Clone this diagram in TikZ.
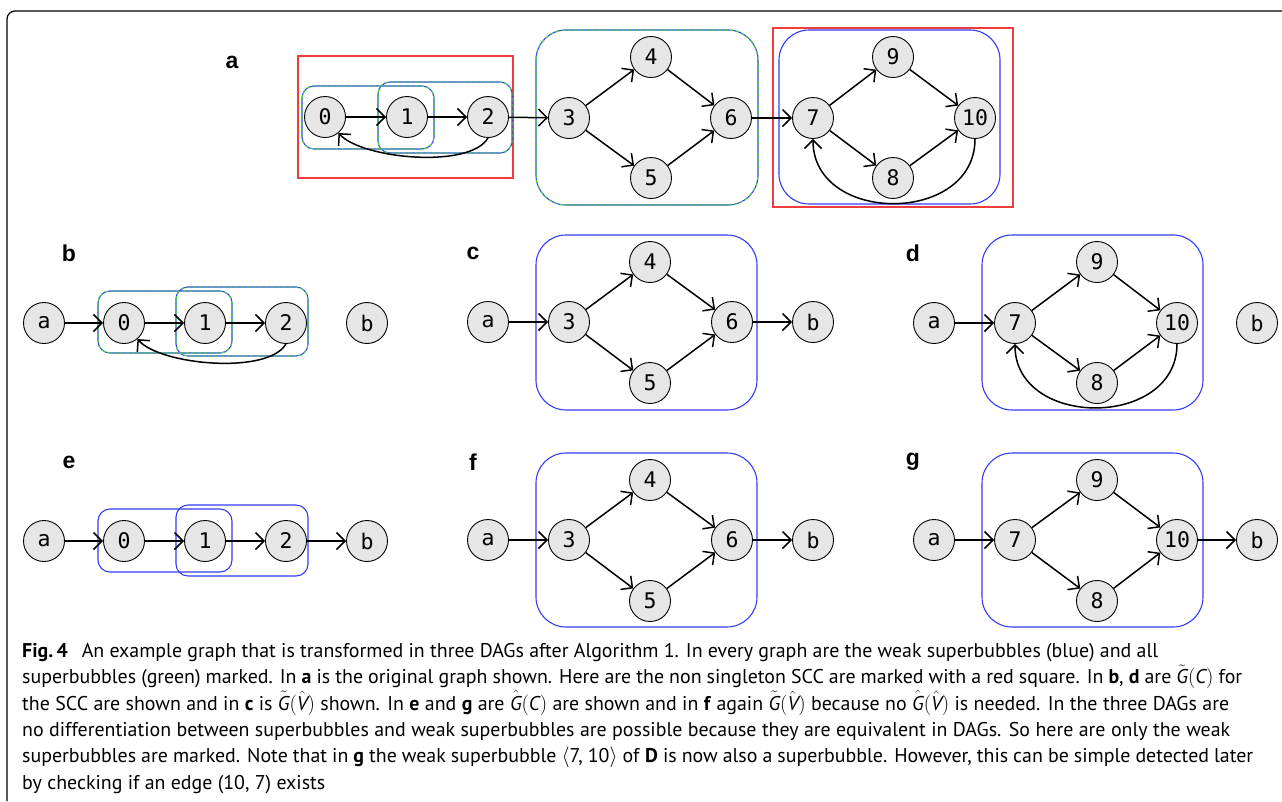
\documentclass[tikz,border=0pt]{standalone}
\usepackage{amsmath}
\usepackage{fontspec}
\setmainfont{PT Sans}
\newfontfamily\vxfont{DejaVu Sans Mono}
\newfontfamily\lblfont{Liberation Sans}
\usetikzlibrary{arrows.meta}
\definecolor{sbblue}{RGB}{50,60,250}
\definecolor{sbgreen}{RGB}{70,210,70}
\definecolor{sccred}{RGB}{240,60,60}
\definecolor{vxfill}{RGB}{230,230,230}
\tikzset{
  vx/.style={circle, draw, fill=vxfill, minimum size=41pt, inner sep=0pt,
    line width=0.9pt, font=\vxfont\fontsize{21.5}{21.5}\selectfont},
  arc/.style={line width=1.5pt,
    -{Straight Barb[length=8.5pt,width=17pt,line width=1.5pt]}},
  weakbub/.style={draw=sbblue, line width=1.1pt, rounded corners=#1},
  superbub/.style={draw=sbgreen, line width=1.1pt, dash pattern=on 3.5pt off 2.5pt,
    rounded corners=#1},
  sccbox/.style={draw=sccred, line width=1.1pt},
  panellabel/.style={font=\lblfont\bfseries\fontsize{23}{23}\selectfont},
  captext/.style={anchor=base west, inner sep=0pt,
    font=\fontsize{19.9}{22}\selectfont},
}
% a bubble that is both weak (blue) and strong (green dashed)
\newcommand\bothbubble[3]{%
  \draw[weakbub=#3] #1 rectangle #2;
  \draw[superbub=#3] #1 rectangle #2;}
% sans italic letters inside formulas
\newcommand\tG{\tilde{\textit{G}}}
\newcommand\hG{\hat{\textit{G}}}
\newcommand\hV{\hat{\textit{V}}}
\newcommand\vC{\textit{C}}
% one caption line set to a given width
\newcommand\capline[2]{\hbox to #1pt{#2}}
\begin{document}
\begin{tikzpicture}[x=1pt, y=-1pt]
\useasboundingbox (0,0) rectangle (1282,801);
\draw[line width=1.2pt, rounded corners=8pt] (7,801) |- (1282,11);

% ---------------- panel a ----------------
\node[panellabel] (la) at (232,62) {a};
\draw[sccbox] (298,56) rectangle (513,178);
\draw[sccbox] (773,28) rectangle (1013,207);
\bothbubble{(302,86)}{(434,149)}{12pt}
\bothbubble{(378,82)}{(512,153)}{12pt}
\bothbubble{(536,30)}{(758,205)}{30pt}
\draw[weakbub=30pt] (779,30) rectangle (1000,204);
\node[vx] (a0) at (325,117) {0};
\node[vx] (a1) at (407,117) {1};
\node[vx] (a2) at (488,117) {2};
\node[vx] (a3) at (569,118) {3};
\node[vx] (a4) at (651,57) {4};
\node[vx] (a5) at (651,178) {5};
\node[vx] (a6) at (731,118) {6};
\node[vx] (a7) at (813,118) {7};
\node[vx] (a9) at (893,57) {9};
\node[vx] (a8) at (893,178) {8};
\node[vx] (a10) at (975,118) {10};
\draw[arc] (a0) -- (a1);
\draw[arc] (a1) -- (a2);
\draw[arc] (a2) -- (a3);
\draw[arc] (a3) -- (a4);
\draw[arc] (a3) -- (a5);
\draw[arc] (a4) -- (a6);
\draw[arc] (a5) -- (a6);
\draw[arc] (a6) -- (a7);
\draw[arc] (a7) -- (a9);
\draw[arc] (a7) -- (a8);
\draw[arc] (a9) -- (a10);
\draw[arc] (a8) -- (a10);
\draw[arc] (a2.south) .. controls (470,169) and (362,159) .. (a0.-50);
\draw[arc] (a10.south) .. controls +(0,86) and +(0,86) .. (a7.south);

% ---------------- panel b ----------------
\node[panellabel] (lb) at (69,253) {b};
\bothbubble{(98,291)}{(232,353)}{12pt}
\bothbubble{(176,287)}{(308,356)}{12pt}
\node[vx] (bA) at (44,323) {a};
\node[vx] (b0) at (124,323) {0};
\node[vx] (b1) at (205,323) {1};
\node[vx] (b2) at (286,323) {2};
\node[vx] (bB) at (367,323) {b};
\draw[arc] (bA) -- (b0);
\draw[arc] (b0) -- (b1);
\draw[arc] (b1) -- (b2);
\draw[arc] (b2.south) .. controls (268,375) and (160,365) .. (b0.-50);

% ---------------- panel c ----------------
\node[panellabel] (lc) at (473,253) {c};
\draw[weakbub=30pt] (536,235) rectangle (757,410);
\node[vx] (cA) at (488,322) {a};
\node[vx] (c3) at (569,322) {3};
\node[vx] (c4) at (650,262) {4};
\node[vx] (c5) at (650,383) {5};
\node[vx] (c6) at (732,322) {6};
\node[vx] (cB) at (813,322) {b};
\draw[arc] (cA) -- (c3);
\draw[arc] (c3) -- (c4);
\draw[arc] (c3) -- (c5);
\draw[arc] (c4) -- (c6);
\draw[arc] (c5) -- (c6);
\draw[arc] (c6) -- (cB);

% ---------------- panel d ----------------
\node[panellabel] (ld) at (913,253) {d};
\draw[weakbub=30pt] (982,235) rectangle (1203,410);
\node[vx] (dA) at (934,323) {a};
\node[vx] (d7) at (1015,323) {7};
\node[vx] (d9) at (1097,262) {9};
\node[vx] (d8) at (1097,383) {8};
\node[vx] (d10) at (1177,323) {10};
\node[vx] (dB) at (1257,323) {b};
\draw[arc] (dA) -- (d7);
\draw[arc] (d7) -- (d9);
\draw[arc] (d7) -- (d8);
\draw[arc] (d9) -- (d10);
\draw[arc] (d8) -- (d10);
\draw[arc] (d10.south) .. controls +(0,85) and +(0,85) .. (d7.south);

% ---------------- panel e ----------------
\node[panellabel] (le) at (69,462) {e};
\draw[weakbub=12pt] (98,509) rectangle (232,572);
\draw[weakbub=12pt] (176,505) rectangle (308,576);
\node[vx] (eA) at (44,541) {a};
\node[vx] (e0) at (124,541) {0};
\node[vx] (e1) at (205,541) {1};
\node[vx] (e2) at (286,541) {2};
\node[vx] (eB) at (367,541) {b};
\draw[arc] (eA) -- (e0);
\draw[arc] (e0) -- (e1);
\draw[arc] (e1) -- (e2);
\draw[arc] (e2) -- (eB);

% ---------------- panel f ----------------
\node[panellabel] (lf) at (473,462) {f};
\draw[weakbub=30pt] (536,453) rectangle (757,627);
\node[vx] (fA) at (488,540) {a};
\node[vx] (f3) at (569,540) {3};
\node[vx] (f4) at (650,480) {4};
\node[vx] (f5) at (650,601) {5};
\node[vx] (f6) at (732,540) {6};
\node[vx] (fB) at (813,540) {b};
\draw[arc] (fA) -- (f3);
\draw[arc] (f3) -- (f4);
\draw[arc] (f3) -- (f5);
\draw[arc] (f4) -- (f6);
\draw[arc] (f5) -- (f6);
\draw[arc] (f6) -- (fB);

% ---------------- panel g ----------------
\node[panellabel] (lg) at (913,462) {g};
\draw[weakbub=30pt] (982,453) rectangle (1203,627);
\node[vx] (gA) at (934,540) {a};
\node[vx] (g7) at (1015,540) {7};
\node[vx] (g9) at (1097,480) {9};
\node[vx] (g8) at (1097,601) {8};
\node[vx] (g10) at (1177,540) {10};
\node[vx] (gB) at (1257,540) {b};
\draw[arc] (gA) -- (g7);
\draw[arc] (g7) -- (g9);
\draw[arc] (g7) -- (g8);
\draw[arc] (g9) -- (g10);
\draw[arc] (g8) -- (g10);
\draw[arc] (g10) -- (gB);

% ---------------- caption ----------------
\node[captext] (cap1) at (22,657) {\capline{1136}{\textbf{Fig.\,4}\hspace{0.7em}An example graph that is transformed in three DAGs after Algorithm 1. In every graph are the weak superbubbles (blue) and all}};
\node[captext] (cap2) at (22,683.5) {\capline{1220}{superbubbles (green) marked. In \textbf{a} is the original graph shown. Here are the non singleton SCC are marked with a red square. In \textbf{b}, \textbf{d} are $\tG(\vC)$ for}};
\node[captext] (cap3) at (22,710) {\capline{1207}{the SCC are shown and in \textbf{c} is $\tG(\hV)$ shown. In \textbf{e} and \textbf{g} are $\hG(\vC)$ are shown and in \textbf{f} again $\tG(\hV)$ because no $\hG(\hV)$ is needed. In the three DAGs are}};
\node[captext] (cap4) at (22,736) {\capline{1208}{no differentiation between superbubbles and weak superbubbles are possible because they are equivalent in DAGs. So here are only the weak}};
\node[captext] (cap5) at (22,762.5) {\capline{1231}{superbubbles are marked. Note that in \textbf{g} the weak superbubble $\langle$7, 10$\rangle$ of \textbf{D} is now also a superbubble. However, this can be simple detected later}};
\node[captext] (cap6) at (22,789) {by checking if an edge (10, 7) exists};
\end{tikzpicture}
\end{document}
